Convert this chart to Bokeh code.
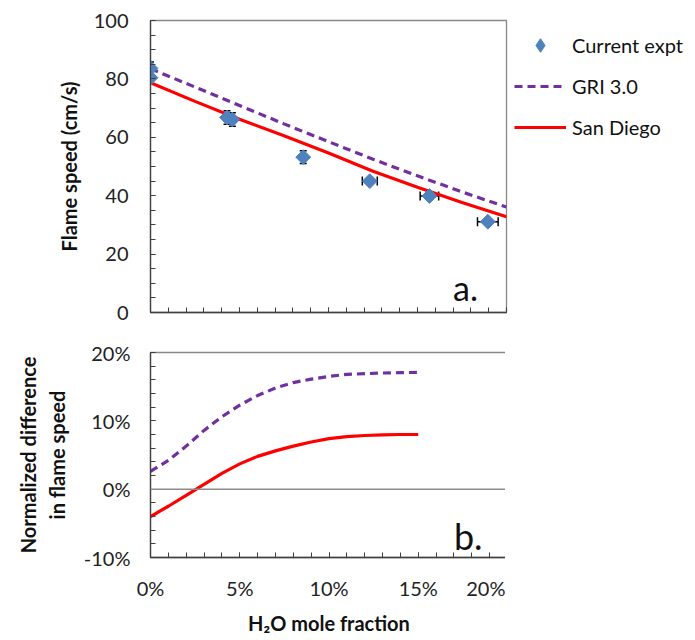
import math
from bokeh.plotting import figure
from bokeh.models import (Range1d, SingleIntervalTicker, PrintfTickFormatter, Legend,
                          LegendItem, Label, Span, Whisker, ColumnDataSource, TeeHead)
from bokeh.layouts import column
from bokeh.embed import file_html
from bokeh.resources import INLINE

# ---------------- data ----------------
expt_x = [0.0, 0.0, 4.3, 4.6, 8.58, 12.32, 15.67, 18.95]
expt_y = [83.6, 80.4, 66.8, 66.1, 53.2, 45.0, 39.9, 31.1]
expt_xerr = [0, 0, 0, 0, 0, 0.42, 0.52, 0.58]
expt_yerr = [2.2, 0, 2.3, 2.3, 2.2, 0, 0, 0]

model_x = [0, 2.5, 5, 7.5, 10, 12.5, 15, 17.5, 20]
gri_speed = [83.5, 77.2, 70.9, 64.6, 58.5, 52.5, 46.8, 41.3, 36.1]
sd_speed = [78.7, 72.3, 66.2, 60.5, 54.6, 48.4, 42.9, 37.7, 32.8]

diff_x = [0, 1, 2, 3, 4, 5, 6, 7, 8, 9, 10, 11, 12, 13, 14, 15]
gri_diff = [2.6, 4.2, 6.3, 8.6, 10.6, 12.3, 13.7, 14.8, 15.6, 16.1, 16.5, 16.8, 16.9, 17.0, 17.05, 17.1]
sd_diff = [-4.0, -2.5, -0.9, 0.7, 2.3, 3.7, 4.8, 5.6, 6.3, 6.9, 7.4, 7.7, 7.85, 7.95, 8.0, 8.0]

series_names = ["Current expt", "GRI 3.0", "San Diego"]
x_tick_fmt = "%d%%"

FONT = "Lato"
BLUE = "#4F81BD"
PURPLE = "#7030A0"
RED = "#FF0000"
AXIS = "#404040"
OUTLINE = "#888888"


def style_axes(p):
    for ax in p.axis:
        ax.axis_line_color = AXIS
        ax.axis_line_width = 1.3
        ax.major_tick_line_color = AXIS
        ax.minor_tick_line_color = AXIS
        ax.major_tick_in = 5
        ax.major_tick_out = 0
        ax.minor_tick_in = 5
        ax.minor_tick_out = 0
        ax.major_label_text_font = FONT
        ax.major_label_text_font_size = "20px"
        ax.major_label_text_color = "#222222"
        ax.axis_label_text_font = FONT
        ax.axis_label_text_font_style = "bold"
        ax.axis_label_text_font_size = "20px"
        ax.axis_label_text_color = "#111111"
    p.xgrid.visible = False
    p.ygrid.visible = False
    p.outline_line_color = OUTLINE
    p.outline_line_width = 1.3
    p.background_fill_color = "white"
    p.border_fill_color = "white"


# ---------------- top panel ----------------
p1 = figure(output_backend="svg", toolbar_location=None,
            frame_width=356, frame_height=292,
            min_border_left=150, min_border_top=20, min_border_bottom=20, min_border_right=0,
            x_range=Range1d(0, 20), y_range=Range1d(0, 100))
p1.xaxis.ticker = SingleIntervalTicker(interval=5, num_minor_ticks=5)
p1.yaxis.ticker = SingleIntervalTicker(interval=20, num_minor_ticks=4)
style_axes(p1)
p1.xaxis.major_label_text_font_size = "0px"
p1.xaxis.major_label_text_color = None
p1.xaxis.major_label_standoff = 0
p1.yaxis.major_label_standoff = 22
p1.yaxis.axis_label = "Flame speed (cm/s)"
p1.yaxis.axis_label_standoff = 10

# error bars
hx = [x for x, e in zip(expt_x, expt_xerr) if e > 0]
hy = [y for y, e in zip(expt_y, expt_xerr) if e > 0]
he = [e for e in expt_xerr if e > 0]
hsrc = ColumnDataSource(dict(base=hy, lo=[x - e for x, e in zip(hx, he)],
                             hi=[x + e for x, e in zip(hx, he)]))
p1.add_layout(Whisker(base="base", lower="lo", upper="hi", dimension="width", source=hsrc,
                      line_color="black", line_width=1.5,
                      upper_head=TeeHead(size=9, line_color="black", line_width=1.5),
                      lower_head=TeeHead(size=9, line_color="black", line_width=1.5)))
vx = [x for x, e in zip(expt_x, expt_yerr) if e > 0]
vy = [y for y, e in zip(expt_y, expt_yerr) if e > 0]
ve = [e for e in expt_yerr if e > 0]
vsrc = ColumnDataSource(dict(base=vx, lo=[y - e for y, e in zip(vy, ve)],
                             hi=[y + e for y, e in zip(vy, ve)]))
p1.add_layout(Whisker(base="base", lower="lo", upper="hi", dimension="height", source=vsrc,
                      line_color="black", line_width=1.5,
                      upper_head=TeeHead(size=7, line_color="black", line_width=1.5),
                      lower_head=TeeHead(size=7, line_color="black", line_width=1.5)))

r_gri = p1.line(model_x, gri_speed, line_color=PURPLE, line_width=3.2, line_dash="8 5")
r_sd = p1.line(model_x, sd_speed, line_color=RED, line_width=3.2)
# diamond used as the legend key (legend glyphs ignore marker angle); it sits
# hidden beneath the first experimental point
r_ex_key = p1.scatter(expt_x[:1], expt_y[:1], marker="diamond", size=9,
                      fill_color=BLUE, line_color=BLUE)
r_ex = p1.scatter(expt_x, expt_y, marker="square", angle=math.pi / 4, size=10.5,
                  fill_color=BLUE, line_color=BLUE)

legend = Legend(items=[LegendItem(label=series_names[0], renderers=[r_ex_key]),
                       LegendItem(label=series_names[1], renderers=[r_gri]),
                       LegendItem(label=series_names[2], renderers=[r_sd])],
                location="top_left", margin=8, padding=0, spacing=7,
                glyph_width=52, glyph_height=34, label_height=34, label_standoff=6,
                label_text_font=FONT, label_text_font_size="20px",
                label_text_color="#111111",
                border_line_color=None, background_fill_alpha=0)
p1.add_layout(legend, "right")

p1.add_layout(Label(x=17.0, y=8.6, text="a.", text_font=FONT, text_font_size="34px",
                    text_baseline="alphabetic", text_color="#111111"))

# ---------------- bottom panel ----------------
p2 = figure(output_backend="svg", toolbar_location=None,
            frame_width=357, frame_height=205,
            min_border_left=148, min_border_top=20, min_border_bottom=80, min_border_right=0,
            x_range=Range1d(0, 20), y_range=Range1d(-10, 20))
p2.xaxis.ticker = SingleIntervalTicker(interval=5, num_minor_ticks=5)
p2.yaxis.ticker = SingleIntervalTicker(interval=10, num_minor_ticks=5)
style_axes(p2)
p2.xaxis.formatter = PrintfTickFormatter(format=x_tick_fmt)
p2.yaxis.formatter = PrintfTickFormatter(format=x_tick_fmt)
p2.xaxis.major_label_standoff = 18
p2.yaxis.major_label_standoff = 20
p2.xaxis.axis_label = "H\u2082O mole fraction"
p2.xaxis.axis_label_standoff = 8
p2.yaxis.axis_label = "Normalized difference\nin flame speed"
p2.yaxis.axis_label_standoff = 12

p2.add_layout(Span(location=0, dimension="width", line_color="#8c8c8c", line_width=1.5))
p2.line(diff_x, gri_diff, line_color=PURPLE, line_width=3.2, line_dash="8 5")
p2.line(diff_x, sd_diff, line_color=RED, line_width=3.2)
p2.add_layout(Label(x=17.0, y=-6.8, text="b.", text_font=FONT, text_font_size="36px",
                    text_baseline="alphabetic", text_color="#111111"))

layout = column(p1, p2, spacing=0)
open("out.html", "w").write(file_html(layout, INLINE))
